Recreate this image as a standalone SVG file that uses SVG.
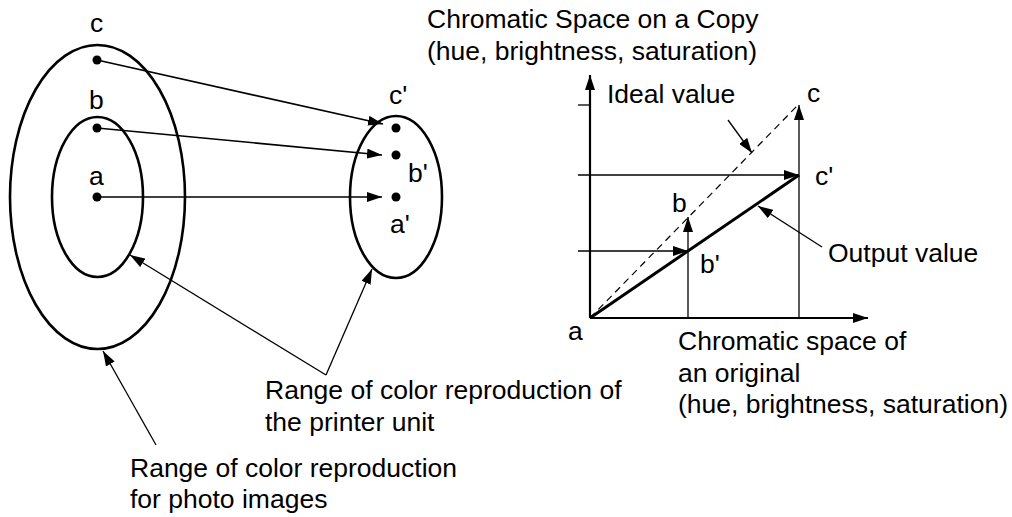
<svg xmlns="http://www.w3.org/2000/svg" width="1012" height="517" viewBox="0 0 1012 517">
<style>
text{font-family:"Liberation Sans",Arial,sans-serif;font-size:26.5px;fill:#000}
.ell{fill:none;stroke:#000;stroke-width:2.6}
.thin{stroke:#000;stroke-width:1.3;fill:none}
.mid{stroke:#000;stroke-width:1.6;fill:none}
.axis{stroke:#000;stroke-width:2.2;fill:none}
.dot{fill:#000}
</style>
<defs>
<marker id="ah" markerUnits="userSpaceOnUse" markerWidth="16" markerHeight="10" refX="15" refY="5" orient="auto">
<path d="M0,0 L15,5 L0,10 z" fill="#000"/>
</marker>
</defs>
<rect width="1012" height="517" fill="#fff"/>

<g id="outer-range">
<ellipse class="ell" cx="97.5" cy="197" rx="87.5" ry="152"/>
</g>
<g id="inner-range">
<ellipse class="ell" cx="97.5" cy="197" rx="45.5" ry="80"/>
</g>
<g id="printer-range">
<ellipse class="ell" cx="396" cy="197" rx="46" ry="81"/>
</g>

<g id="points">
<circle class="dot" cx="97" cy="60" r="4.5"/>
<circle class="dot" cx="97" cy="128" r="4.5"/>
<circle class="dot" cx="97" cy="197" r="4.5"/>
<circle class="dot" cx="396" cy="128" r="4.5"/>
<circle class="dot" cx="396" cy="155" r="4.5"/>
<circle class="dot" cx="396" cy="197" r="4.5"/>
<text x="90" y="32">c</text>
<text x="89" y="109">b</text>
<text x="89" y="185">a</text>
<text x="389" y="104">c'</text>
<text x="408" y="182">b'</text>
<text x="390" y="233">a'</text>
</g>

<g id="graph">
<line class="axis" x1="590" y1="318" x2="590" y2="75" marker-end="url(#ah)"/>
<line class="axis" x1="590" y1="318" x2="868" y2="318" marker-end="url(#ah)"/>
<line class="thin" x1="578" y1="105" x2="590" y2="105"/>
<line class="thin" x1="578" y1="175" x2="799" y2="175" marker-end="url(#ah)"/>
<line class="thin" x1="578" y1="251" x2="688" y2="251" marker-end="url(#ah)"/>
<line class="thin" x1="688" y1="318" x2="688" y2="217" marker-end="url(#ah)"/>
<line class="thin" x1="799" y1="318" x2="799" y2="105" marker-end="url(#ah)"/>
<line x1="590" y1="318" x2="798" y2="105" stroke="#000" stroke-width="1.2" stroke-dasharray="7,5"/>
<line x1="590" y1="318" x2="799" y2="175" stroke="#000" stroke-width="3"/>
<text x="807" y="102">c</text>
<text x="815" y="185">c'</text>
<text x="672" y="212">b</text>
<text x="700" y="273">b'</text>
<text x="568" y="340">a</text>
<text x="607" y="103">Ideal value</text>
<text x="828" y="262">Output value</text>
<text x="427" y="28">Chromatic Space on a Copy</text>
<text x="427" y="60">(hue, brightness, saturation)</text>
<text x="678" y="350">Chromatic space of</text>
<text x="678" y="382">an original</text>
<text x="678" y="413">(hue, brightness, saturation)</text>
</g>

<g id="connectors">
<line class="mid" x1="97" y1="60" x2="383" y2="124" marker-end="url(#ah)"/>
<line class="mid" x1="97" y1="128" x2="382" y2="155" marker-end="url(#ah)"/>
<line class="mid" x1="97" y1="197" x2="382" y2="197" marker-end="url(#ah)"/>
<line class="thin" x1="326" y1="375" x2="130" y2="255" marker-end="url(#ah)"/>
<line class="thin" x1="326" y1="375" x2="372" y2="269" marker-end="url(#ah)"/>
<line class="thin" x1="156" y1="445" x2="103" y2="351" marker-end="url(#ah)"/>
<line class="thin" x1="728" y1="120" x2="752" y2="153" marker-end="url(#ah)"/>
<line class="thin" x1="822" y1="247" x2="758" y2="206" marker-end="url(#ah)"/>
</g>

<g id="labels">
<text x="265" y="399">Range of color reproduction of</text>
<text x="265" y="431">the printer unit</text>
<text x="130" y="477">Range of color reproduction</text>
<text x="130" y="508">for photo images</text>
</g>
</svg>
